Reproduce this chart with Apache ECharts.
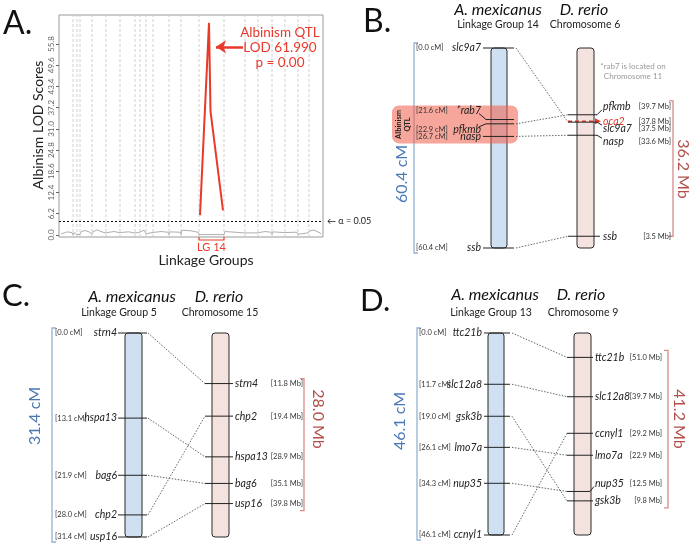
<!DOCTYPE html>
<html><head><meta charset="utf-8">
<script src="https://cdn.jsdelivr.net/npm/echarts@6.0.0/dist/echarts.min.js"></script>
<style>html,body{margin:0;padding:0;background:#fff;}#chart{width:695px;height:546px;}</style>
</head><body><div id="chart"></div>
<script>
// ===== Panel A: genome-wide LOD scan =====
const lodTicks = [0.0, 6.2, 12.4, 18.6, 24.8, 31.0, 37.2, 43.4, 49.6, 55.8];
const lgBreaks = [14, 18, 21, 33, 47, 61, 76, 81, 87, 94, 110, 122, 140, 165, 186, 199, 213, 226, 239, 250];
const qtlGroupName = 'LG 14';
const qtlGroupIndex = 13;
const lg14Pos = [141, 150, 151.5, 164];
const lg14Lod = [5.8, 61.99, 36.2, 7.2];
const lodThreshold = 4.0;
const thresholdLabel = 'α = 0.05';
const peakP = '0.00';
const bgPos = [2,3,8,13,14,15,17,18,19,21,22,26,30,33,34,38,42,46,47,48,55,60,61,62,70,75,76,77,80,81,82,85,87,88,93,94,95,102,109,110,111,121,122,123,132,139,140,165,166,176,185,186,187,198,199,200,206,212,213,214,225,226,227,238,239,240,249,250,251,255,261,262];
const bgLod = [0.3,0.8,0.9,0.7,0.1,0.7,0.6,0.1,0.6,0.2,0.9,1.3,0.9,0.3,0.9,1.5,1.0,0.6,0.2,0.9,1.0,0.7,0.2,0.8,0.9,0.6,0.2,0.8,0.7,0.2,1.0,1.4,0.3,0.8,0.7,0.2,0.9,1.0,0.8,0.2,0.9,0.8,0.2,1.4,1.2,0.8,0.1,0.1,1.0,0.8,0.6,0.2,0.7,0.6,0.2,0.8,1.0,0.8,0.2,0.9,0.7,0.2,0.8,0.8,0.2,0.7,0.6,0.2,1.2,1.4,0.6,0.2];

// ===== Panel B: LG 14 vs Chromosome 6 =====
const bAmGenes = ['slc9a7', '*rab7', 'pfkmb', 'nasp', 'ssb'];
const bAmCM = [0.0, 21.6, 22.9, 26.7, 60.4];
const bDrGenes = ['pfkmb', 'oca2', 'slc9a7', 'nasp', 'ssb'];
const bDrMb = [39.7, 37.8, 37.5, 33.6, 3.5];
const bChromMb = 59.6;
const bQTL = [21.6, 26.7];
const bHighlightGene = 'oca2';

// ===== Panel C: LG 5 vs Chromosome 15 =====
const cAmGenes = ['strn4', 'hspa13', 'bag6', 'chp2', 'usp16'];
const cAmCM = [0.0, 13.1, 21.9, 28.0, 31.4];
const cDrGenes = ['strn4', 'chp2', 'hspa13', 'bag6', 'usp16'];
const cDrMb = [11.8, 19.4, 28.9, 35.1, 39.8];
const cChromMb = 47.6;

// ===== Panel D: LG 13 vs Chromosome 9 =====
const dAmGenes = ['ttc21b', 'slc12a8', 'gsk3b', 'lmo7a', 'nup35', 'ccnyl1'];
const dAmCM = [0.0, 11.7, 19.0, 26.1, 34.3, 46.1];
const dDrGenes = ['ttc21b', 'slc12a8', 'ccnyl1', 'lmo7a', 'nup35', 'gsk3b'];
const dDrMb = [51.0, 39.7, 29.2, 22.9, 12.5, 9.8];
const dChromMb = 58.0;

// ===== layout (pixels) =====
const layoutB = {top:48, height:200, blue:[491,507], pink:[577,594], blueTick:[483,514], pinkTick:[568,600],
  geneRight:481, cmLeft:416, drLeft:603, mbRight:671, brL:414, brR:673, brPadTop:14, brPadBot:0,
  cmTextX:402, cmTextY:174, mbTextX:683, mbTextY:169, mbInverse:false, link:[516,568],
  amDy:[0,-9,6,0,0], drDy:[-8,0,6,6,0]};
const layoutC = {top:333, height:204, blue:[125,142], pink:[212,229], blueTick:[118,147], pinkTick:[205,233],
  geneRight:117, cmLeft:55, drLeft:235, mbRight:303, brL:52, brR:304, brPadTop:5, brPadBot:7,
  cmTextX:35, cmTextY:416, mbTextX:318, mbTextY:419, mbInverse:true, link:[148,205],
  amDy:[0,0,0,0,0], drDy:[0,0,0,0,0]};
const layoutD = {top:333, height:202, blue:[488,504], pink:[574,591], blueTick:[484,510], pinkTick:[567,593],
  geneRight:482, cmLeft:419, drLeft:595, mbRight:662, brL:417, brR:668, brPadTop:7, brPadBot:7,
  cmTextX:400, cmTextY:421, mbTextX:679, mbTextY:419, mbInverse:false, link:[512,567],
  amDy:[0,0,0,0,0,0], drDy:[0,0,0,0,-8,0]};

const FF = 'Lato, "Open Sans", sans-serif';
const RED = '#e8392b';
const GENE_FONT = 'italic 10.5px ' + FF;
const SMALL_FONT = '7.5px ' + FF;
const chart = echarts.init(document.getElementById('chart'), null, {width:695, height:546});

const panels = [
  {amGenes:bAmGenes, amCM:bAmCM, drGenes:bDrGenes, drMb:bDrMb, chromMb:bChromMb, hl:bHighlightGene, qtl:bQTL, L:layoutB},
  {amGenes:cAmGenes, amCM:cAmCM, drGenes:cDrGenes, drMb:cDrMb, chromMb:cChromMb, hl:null, qtl:null, L:layoutC},
  {amGenes:dAmGenes, amCM:dAmCM, drGenes:dDrGenes, drMb:dDrMb, chromMb:dChromMb, hl:null, qtl:null, L:layoutD}
];

const grids = [{left:59, top:15, width:264, height:222, show:true, borderColor:'#9a9a9a', borderWidth:1, outerBoundsMode:'none'}];
const xAxes = [{gridIndex:0, type:'value', min:0, max:264, show:false}];
const yAxes = [{gridIndex:0, type:'value', min:-0.6, max:64.3,
  axisLine:{show:false}, splitLine:{show:false},
  axisTick:{show:true, length:3, customValues:lodTicks, lineStyle:{color:'#666'}},
  axisLabel:{customValues:lodTicks, rotate:90, fontSize:8, color:'#666', margin:4, fontFamily:FF, formatter:v=>v.toFixed(1)}}];

const series = [];
// linkage group separators
series.push({type:'custom', xAxisIndex:0, yAxisIndex:0, silent:true, z:1, data:lgBreaks.map(x=>[x]),
  encode:{x:0},
  renderItem(params, api){
    const x = api.coord([api.value(0), -0.6])[0];
    const y0 = api.coord([0, -0.6])[1], y1 = api.coord([0, 64.3])[1];
    return {type:'line', shape:{x1:x, y1:y0, x2:x, y2:y1}, style:{stroke:'#c4c4c4', lineWidth:0.8, lineDash:[3,2]}};
  }});
// gray background LOD profile
series.push({type:'line', xAxisIndex:0, yAxisIndex:0, data:bgPos.map((x,i)=>[x,bgLod[i]]), symbol:'none',
  lineStyle:{color:'#9a9a9a', width:0.8}, silent:true, z:2});
// QTL profile on LG 14
const peak = Math.max(...lg14Lod);
series.push({type:'line', xAxisIndex:0, yAxisIndex:0, data:lg14Pos.map((x,i)=>[x,lg14Lod[i]]), symbol:'none',
  lineStyle:{color:RED, width:2}, z:3, silent:true,
  markLine:{silent:true, symbol:['none','none'], animation:false,
    data:[
      {yAxis:lodThreshold, lineStyle:{color:'#111', type:[2,2], width:1},
       label:{show:true, position:'end', formatter:'← ' + thresholdLabel, color:'#222', fontSize:9, fontFamily:FF, distance:4}},
      [{coord:[184, 55.0], symbol:'none', lineStyle:{color:RED, width:2.5, type:'solid'}, label:{show:false}},
       {coord:[157, 55.0], symbol:'arrow', symbolSize:10, lineStyle:{color:RED, width:2.5, type:'solid'}, label:{show:false}}]
    ]}});
// LG 14 bracket
series.push({type:'custom', xAxisIndex:0, yAxisIndex:0, silent:true, z:5,
  data:[[lgBreaks[qtlGroupIndex-1], lgBreaks[qtlGroupIndex]]],
  renderItem(params, api){
    const p0 = api.coord([api.value(0), -0.6]), p1 = api.coord([api.value(1), -0.6]);
    const y = p0[1] + 3;
    return {type:'group', children:[
      {type:'polyline', shape:{points:[[p0[0],y-3],[p0[0],y],[p1[0],y],[p1[0],y-3]]}, style:{stroke:RED, lineWidth:1.2, fill:null}},
      {type:'text', x:(p0[0]+p1[0])/2, y:y+2, style:{text:qtlGroupName, font:'11px '+FF, fill:RED, align:'center', verticalAlign:'top'}}
    ]};
  }});

function buildPanel(p, k) {
  const L = p.L, gi = k + 1, xAx = k + 1, cmAx = 1 + 2*k, mbAx = 2 + 2*k;
  const cmMax = Math.max(...p.amCM);
  grids.push({left:0, right:0, top:L.top, height:L.height, outerBoundsMode:'none'});
  xAxes.push({gridIndex:gi, type:'value', min:0, max:695, show:false});
  yAxes.push({gridIndex:gi, type:'value', min:0, max:cmMax, inverse:true, show:false});
  yAxes.push({gridIndex:gi, type:'value', min:0, max:p.chromMb, inverse:L.mbInverse, show:false});
  // A. mexicanus bar
  series.push({type:'custom', xAxisIndex:xAx, yAxisIndex:cmAx, z:1, silent:true, data:[[0, cmMax]],
    renderItem(params, api){
      const X = x => api.coord([x, 0])[0];
      const top = api.coord([0,0])[1], bot = api.coord([0, api.value(1)])[1];
      return {type:'group', children:[
        {type:'rect', shape:{x:X(L.blue[0]), y:top, width:X(L.blue[1])-X(L.blue[0]), height:bot-top, r:3}, style:{fill:'#cfe0f2', stroke:'#2a2a2a', lineWidth:1}},
        {type:'polyline', shape:{points:[[X(L.brL)+4,top-5],[X(L.brL),top-5],[X(L.brL),bot+5],[X(L.brL)+4,bot+5]]}, style:{stroke:'#93b1d3', lineWidth:1.3, fill:null}},
        {type:'text', x:X(L.cmTextX), y:L.cmTextY, rotation:Math.PI/2, style:{text:api.value(1).toFixed(1)+' cM', font:'16px '+FF, fill:'#4a78b5', align:'center', verticalAlign:'middle'}}
      ]};
    }});
  // D. rerio bar
  series.push({type:'custom', xAxisIndex:xAx, yAxisIndex:mbAx, z:1, silent:true, data:[[0, p.chromMb]],
    renderItem(params, api){
      const X = x => api.coord([x, 0])[0];
      const a = api.coord([0,0])[1], b = api.coord([0, api.value(1)])[1];
      const top = Math.min(a,b), bot = Math.max(a,b);
      const ys = p.drMb.map(v => api.coord([0,v])[1]);
      const bt = Math.min(...ys) - L.brPadTop, bb = Math.max(...ys) + L.brPadBot;
      const span = Math.max(...p.drMb) - Math.min(...p.drMb);
      return {type:'group', children:[
        {type:'rect', shape:{x:X(L.pink[0]), y:top, width:X(L.pink[1])-X(L.pink[0]), height:bot-top, r:3}, style:{fill:'#f4e2de', stroke:'#2a2a2a', lineWidth:1}},
        {type:'polyline', shape:{points:[[X(L.brR)-4,bt],[X(L.brR),bt],[X(L.brR),bb],[X(L.brR)-4,bb]]}, style:{stroke:'#d58c88', lineWidth:1.3, fill:null}},
        {type:'text', x:X(L.mbTextX), y:L.mbTextY, rotation:-Math.PI/2, style:{text:span.toFixed(1)+' Mb', font:'16px '+FF, fill:'#b4504b', align:'center', verticalAlign:'middle'}}
      ]};
    }});
  // QTL highlight
  if (p.qtl) {
    series.push({type:'custom', xAxisIndex:xAx, yAxisIndex:cmAx, z:2, silent:true, data:[p.qtl],
      renderItem(params, api){
        const X = x => api.coord([x, 0])[0];
        const t = api.coord([0, api.value(0)])[1] - 14, b = api.coord([0, api.value(1)])[1] + 7;
        return {type:'group', children:[
          {type:'rect', shape:{x:X(392), y:t, width:X(518)-X(392), height:b-t, r:7}, style:{fill:'rgba(240,92,72,0.55)'}},
          {type:'text', x:X(403), y:(t+b)/2, rotation:Math.PI/2, style:{text:'Albinism\nQTL', font:'bold 7.5px '+FF, fill:'#222', align:'center', verticalAlign:'middle', lineHeight:9}}
        ]};
      }});
  }
  // connectors
  series.push({type:'custom', xAxisIndex:xAx, yAxisIndex:cmAx, z:3, silent:true, data:p.amCM.map(v=>[0,v]),
    renderItem(params, api){
      const i = params.dataIndex;
      const j = p.drGenes.indexOf(p.amGenes[i]);
      if (j < 0) return {type:'group', children:[]};
      const X = x => api.coord([x, 0])[0];
      const y1 = api.coord([0, api.value(1)])[1];
      const y2 = chart.convertToPixel({yAxisIndex:mbAx}, p.drMb[j]);
      return {type:'line', shape:{x1:X(L.link[0]), y1:y1, x2:X(L.link[1]), y2:y2}, style:{stroke:'#555', lineWidth:0.9, lineDash:[1.5,1.5]}};
    }});
  // A. mexicanus markers
  series.push({type:'custom', xAxisIndex:xAx, yAxisIndex:cmAx, z:4, silent:true, data:p.amCM.map(v=>[0,v]),
    renderItem(params, api){
      const i = params.dataIndex;
      const X = x => api.coord([x, 0])[0];
      const v = api.value(1), y = api.coord([0, v])[1], dy = L.amDy[i], yl = y + dy;
      const pts = dy === 0 ? [[X(L.blueTick[0]), y],[X(L.blueTick[1]), y]]
        : [[X(L.geneRight)-2, yl + (dy<0?3:-3)],[X(L.blueTick[0])+3, y],[X(L.blueTick[1]), y]];
      return {type:'group', children:[
        {type:'polyline', shape:{points:pts}, style:{stroke:'#222', lineWidth:1, fill:null}},
        {type:'text', x:X(L.geneRight), y:yl, style:{text:p.amGenes[i], font:GENE_FONT, fill:'#222', align:'right', verticalAlign:'middle'}},
        {type:'text', x:X(L.cmLeft), y:yl, style:{text:'['+v.toFixed(1)+' cM]', font:SMALL_FONT, fill:'#333', align:'left', verticalAlign:'middle'}}
      ]};
    }});
  // D. rerio markers
  series.push({type:'custom', xAxisIndex:xAx, yAxisIndex:mbAx, z:4, silent:true, data:p.drMb.map(v=>[0,v]),
    renderItem(params, api){
      const i = params.dataIndex;
      const X = x => api.coord([x, 0])[0];
      const v = api.value(1), y = api.coord([0, v])[1], dy = L.drDy[i], yl = y + dy;
      const isHL = p.drGenes[i] === p.hl;
      const children = [];
      if (isHL) {
        const xe = X(L.pinkTick[1]);
        children.push({type:'line', shape:{x1:X(L.pinkTick[0]), y1:y, x2:xe-4, y2:y}, style:{stroke:RED, lineWidth:1.5, lineDash:[4,3]}});
        children.push({type:'polygon', shape:{points:[[xe+1,y],[xe-5,y-3],[xe-5,y+3]]}, style:{fill:RED}});
      } else {
        const pts = dy === 0 ? [[X(L.pinkTick[0]), y],[X(L.pinkTick[1]), y]]
          : [[X(L.pinkTick[0]), y],[X(L.pinkTick[1])-3, y],[X(L.drLeft)-1, yl + (dy<0?3:-3)]];
        children.push({type:'polyline', shape:{points:pts}, style:{stroke:'#222', lineWidth:1, fill:null}});
      }
      children.push({type:'text', x:X(L.drLeft), y:yl, style:{text:p.drGenes[i], font:GENE_FONT, fill:isHL?RED:'#222', align:'left', verticalAlign:'middle'}});
      children.push({type:'text', x:X(L.mbRight), y:yl, style:{text:'['+v.toFixed(1)+' Mb]', font:SMALL_FONT, fill:'#333', align:'right', verticalAlign:'middle'}});
      return {type:'group', children};
    }});
}
panels.forEach((p,k)=>buildPanel(p,k));

function T(text, x, y, font, fill, extra) {
  return {type:'text', x:x, y:y, silent:true, z:10, style:Object.assign({text:text, font:font, fill:fill||'#111', align:'center', verticalAlign:'middle'}, extra||{})};
}
const graphic = [
  T('A.', 3, 8, '32px '+FF, '#111', {align:'left', verticalAlign:'top'}),
  T('B.', 363, 6, '32px '+FF, '#111', {align:'left', verticalAlign:'top'}),
  T('C.', 2, 280, '31px '+FF, '#111', {align:'left', verticalAlign:'top'}),
  T('D.', 360, 285, '31px '+FF, '#111', {align:'left', verticalAlign:'top'}),
  Object.assign(T('Albinism LOD Scores', 38, 125, '14px '+FF, '#222'), {rotation:Math.PI/2}),
  T('Linkage Groups', 206, 260, '14px '+FF, '#222'),
  T('Albinism QTL\nLOD ' + peak.toFixed(3) + '\np = ' + peakP, 280, 48, '13.5px '+FF, RED, {lineHeight:15}),
  T('A. mexicanus', 498, 10, 'italic 16px '+FF, '#111'),
  T('D. rerio', 584, 10, 'italic 16px '+FF, '#111'),
  T('Linkage Group 14', 498, 25, '10.5px '+FF, '#222'),
  T('Chromosome 6', 585, 25, '10.5px '+FF, '#222'),
  T('*rab7 is located on\nChromosome 11', 633, 71, '8px '+FF, '#9a9a9a', {lineHeight:10}),
  T('A. mexicanus', 132, 297, 'italic 16px '+FF, '#111'),
  T('D. rerio', 219, 297, 'italic 16px '+FF, '#111'),
  T('Linkage Group 5', 119, 313, '10.5px '+FF, '#222'),
  T('Chromosome 15', 220, 313, '10.5px '+FF, '#222'),
  T('A. mexicanus', 495, 295, 'italic 16px '+FF, '#111'),
  T('D. rerio', 581, 295, 'italic 16px '+FF, '#111'),
  T('Linkage Group 13', 491, 313, '10.5px '+FF, '#222'),
  T('Chromosome 9', 583, 313, '10.5px '+FF, '#222')
];

chart.setOption({
  animation:false,
  backgroundColor:'#fff',
  grid:grids, xAxis:xAxes, yAxis:yAxes, series:series, graphic:graphic
});
</script>
</body></html>
